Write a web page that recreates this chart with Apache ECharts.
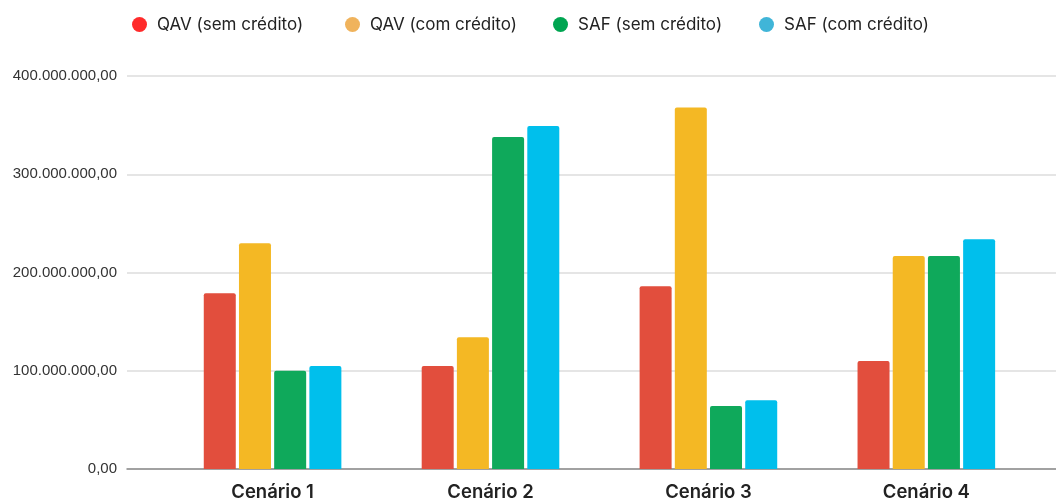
<!DOCTYPE html>
<html>
<head>
<meta charset="utf-8">
<script src="https://cdn.jsdelivr.net/npm/echarts@6/dist/echarts.min.js"></script>
<style>
  html, body { margin: 0; padding: 0; background: #fff; }
  #chart { width: 1056px; height: 502px; }
</style>
</head>
<body>
<div id="chart"></div>
<script>
// dados
var categories = ["Cenário 1", "Cenário 2", "Cenário 3", "Cenário 4"];
var seriesNames = ["QAV (sem crédito)", "QAV (com crédito)", "SAF (sem crédito)", "SAF (com crédito)"];
var qavSem = [178800000, 104800000, 186000000, 110000000];
var qavCom = [229700000, 134000000, 368000000, 216800000];
var safSem = [100000000, 338000000, 64000000, 216800000];
var safCom = [104800000, 349000000, 70000000, 233800000];

var barColors = ["#E24E3D", "#F4B824", "#0FA95B", "#00BFEC"];
var legendColors = ["#FF2B2B", "#F0B35C", "#00A551", "#40B5D8"];
var legendLeft = [127, 340, 548, 754];

// formato brasileiro: 400.000.000,00
function fmtBR(v) {
  var s = Math.round(v).toString().replace(/\B(?=(\d{3})+(?!\d))/g, ".");
  return s + ",00";
}

var chart = echarts.init(document.getElementById("chart"));

var allData = [qavSem, qavCom, safSem, safCom];
var series = [];
var legends = [];
for (var k = 0; k < allData.length; k++) {
  var pts = [];
  for (var i = 0; i < categories.length; i++) {
    pts.push([i + 1, allData[k][i]]);
  }
  series.push({
    name: seriesNames[k],
    type: "bar",
    data: pts,
    barWidth: 32,
    barGap: "10%",
    itemStyle: {
      color: barColors[k],
      borderRadius: [2, 2, 0, 0]
    }
  });
  // uma legenda por série, para posicionar cada item
  legends.push({
    top: 11,
    left: legendLeft[k],
    itemWidth: 15,
    itemHeight: 15,
    icon: "circle",
    textStyle: { fontFamily: "Inter", fontSize: 17, color: "#222", padding: [0, 0, 0, 5] },
    data: [{ name: seriesNames[k], itemStyle: { color: legendColors[k] } }]
  });
}

var option = {
  animation: false,
  legend: legends,
  grid: { left: 127, right: 0, top: 76, bottom: 33 },
  xAxis: {
    type: "value",
    min: 0.332,
    max: 4.595,
    splitLine: { show: false },
    axisTick: { show: false },
    axisLine: { show: true, onZero: true, lineStyle: { color: "#8a8a8a", width: 1.5 } },
    axisLabel: {
      customValues: [1, 2, 3, 4],
      margin: 14,
      fontFamily: "Inter",
      fontWeight: 600,
      fontSize: 18.5,
      color: "#222",
      formatter: function (v) { return categories[Math.round(v) - 1]; }
    }
  },
  yAxis: {
    type: "value",
    min: 0,
    max: 400000000,
    interval: 100000000,
    axisLine: { show: false },
    axisTick: { show: false },
    splitLine: { lineStyle: { color: "#dddddd", width: 1.5 } },
    axisLabel: {
      margin: 10,
      fontFamily: "Liberation Sans",
      fontSize: 15,
      color: "#333",
      formatter: function (v) { return fmtBR(v); }
    }
  },
  series: series
};

chart.setOption(option);
</script>
</body>
</html>
